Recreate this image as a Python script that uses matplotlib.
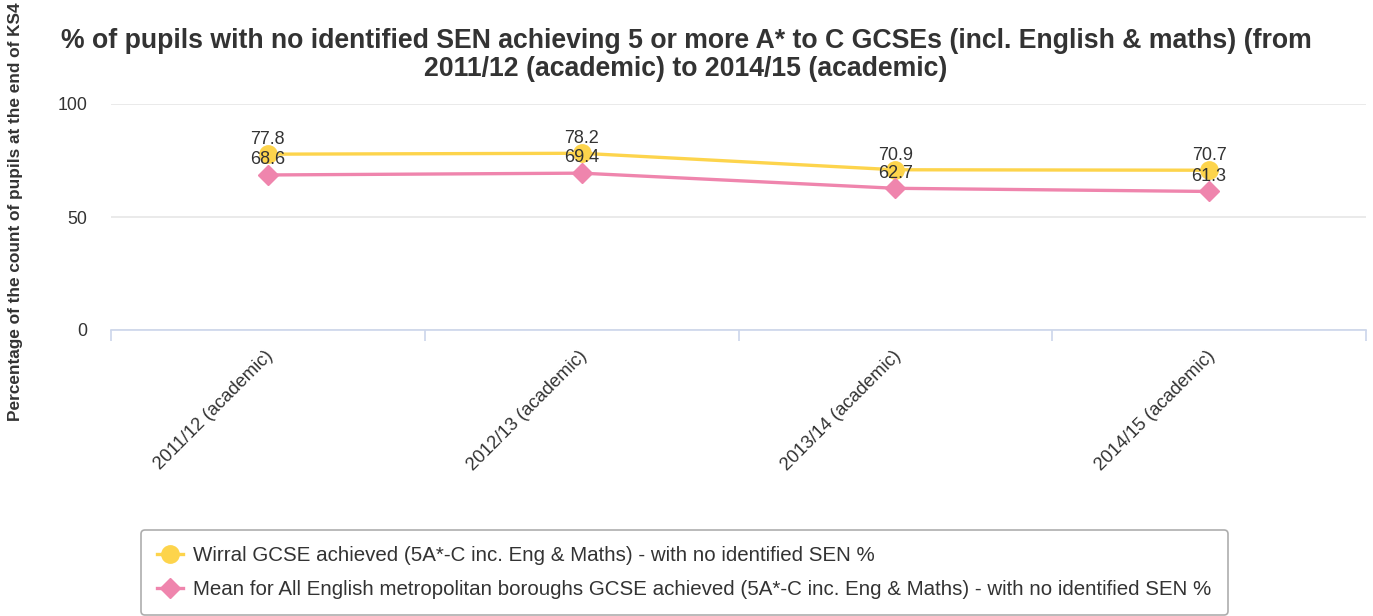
import matplotlib
matplotlib.use("Agg")
import matplotlib.pyplot as plt
from matplotlib.lines import Line2D
from matplotlib.transforms import ScaledTranslation

plt.rcParams['font.family'] = ['Liberation Sans', 'DejaVu Sans']

categories = ["2011/12 (academic)", "2012/13 (academic)", "2013/14 (academic)", "2014/15 (academic)"]
wirral = [77.8, 78.2, 70.9, 70.7]
mean_met = [68.6, 69.4, 62.7, 61.3]
series_names = ["Wirral GCSE achieved (5A*-C inc. Eng & Maths) - with no identified SEN %",
                "Mean for All English metropolitan boroughs GCSE achieved (5A*-C inc. Eng & Maths) - with no identified SEN %"]
yticks = [0, 50, 100]

W, H = 1373, 616
fig = plt.figure(figsize=(W/100, H/100), dpi=100)
L, R, T, B = 111, 1366, 104, 330
ax = fig.add_axes([L/W, 1-B/H, (R-L)/W, (B-T)/H])

YEL = '#fdd44c'
PINK = '#ef85ad'
TXT = '#333333'

x = list(range(len(categories)))
ax.plot(x, wirral, color=YEL, lw=2.4, marker='o', ms=12.5, zorder=3, clip_on=False)
ax.plot(x, mean_met, color=PINK, lw=2.4, marker='D', ms=10, zorder=4, clip_on=False)
for xi, v in zip(x, wirral):
    ax.annotate(f"{v}", (xi, v), xytext=(0, 10.5), textcoords='offset points', ha='center', va='center',
                fontsize=13, color=TXT, zorder=6)
for xi, v in zip(x, mean_met):
    ax.annotate(f"{v}", (xi, v), xytext=(0, 11), textcoords='offset points', ha='center', va='center',
                fontsize=13, color=TXT, zorder=6)

ax.set_xlim(-0.5, len(categories)-0.5)
ax.set_ylim(0, 100)
ax.set_yticks(yticks)
ax.yaxis.grid(True, color='#e6e6e6', lw=1.2)
ax.set_axisbelow(True)
for s in ['top', 'right', 'left']:
    ax.spines[s].set_visible(False)
ax.spines['bottom'].set_color('#ccd6eb')
ax.spines['bottom'].set_linewidth(1.2)
ax.tick_params(axis='y', length=0, pad=17, labelsize=12.8, labelcolor=TXT)
ax.set_xticks(x)
ax.set_xticklabels(categories, rotation=45, ha='right', rotation_mode='anchor', va='center')
ax.tick_params(axis='x', which='major', length=0, pad=17, labelsize=13.2, labelcolor=TXT)
off = ScaledTranslation(3/100, 0, fig.dpi_scale_trans)
for lab in ax.get_xticklabels():
    lab.set_transform(lab.get_transform() + off)
ax.set_xticks([i-0.5 for i in range(len(categories)+1)], minor=True)
ax.tick_params(axis='x', which='minor', length=8, width=1.2, color='#ccd6eb')

fig.text(686/W, 1-41/H, "% of pupils with no identified SEN achieving 5 or more A* to C GCSEs (incl. English & maths) (from",
         ha='center', va='center', fontsize=19.2, fontweight='bold', color=TXT)
fig.text(686/W, 1-69/H, "2011/12 (academic) to 2014/15 (academic)",
         ha='center', va='center', fontsize=19.2, fontweight='bold', color=TXT)
fig.text(16/W, 1-212/H, "Percentage of the count of pupils at the end of KS4", rotation=90,
         ha='center', va='center', fontsize=12.4, fontweight='bold', color=TXT)

handles = [Line2D([], [], color=YEL, lw=2.4, marker='o', ms=12.5),
           Line2D([], [], color=PINK, lw=2.4, marker='D', ms=10)]
leg = fig.legend(handles, series_names, loc='upper left', bbox_to_anchor=(141/W, 1-530/H),
                 borderaxespad=0, fontsize=14.8, frameon=True, fancybox=True, edgecolor='#999999',
                 handlelength=1.25, handletextpad=0.5, labelspacing=0.7, borderpad=0.8, labelcolor=TXT)
leg.get_frame().set_linewidth(1.2)

fig.savefig("out.png", dpi=100)
